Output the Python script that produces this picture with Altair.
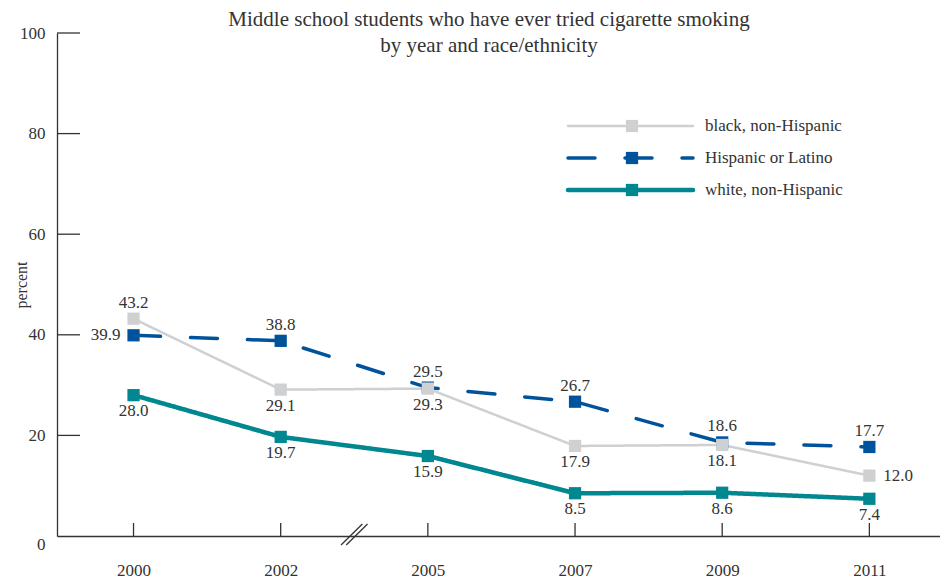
import altair as alt
import pandas as pd

years = ["2000", "2002", "2005", "2007", "2009", "2011"]
series_names = ["black, non-Hispanic", "Hispanic or Latino", "white, non-Hispanic"]
black_vals = [43.2, 29.1, 29.3, 17.9, 18.1, 12.0]
hisp_vals = [39.9, 38.8, 29.5, 26.7, 18.6, 17.7]
white_vals = [28.0, 19.7, 15.9, 8.5, 8.6, 7.4]
black_pos = ["above", "below", "below", "below", "below", "right"]
hisp_pos = ["left", "above", "above", "above", "above", "above"]
white_pos = ["below"] * 6
y_ticks = [20, 40, 60, 80, 100]

colors = ["#cfd0d2", "#00539b", "#00878f"]
dashes = [[1, 0], [27, 30], [1, 0]]
widths = [2.5, 4.5, 4.5]

rows = []
for name, vals, poss in zip(series_names, [black_vals, hisp_vals, white_vals],
                            [black_pos, hisp_pos, white_pos]):
    for i, (v, p) in enumerate(zip(vals, poss)):
        rows.append({"idx": i, "year": years[i], "series": name, "value": v,
                     "pos": p, "label": f"{v:.1f}"})
df = pd.DataFrame(rows)

FONT = "Liberation Serif"
TXT = "#333333"
W, H = 883, 503

xs = alt.Scale(domain=[-0.52, 5.48], nice=False, zero=False)
ys = alt.Scale(domain=[0, 100], nice=False)
cs = alt.Scale(domain=series_names, range=colors)
ds = alt.Scale(domain=series_names, range=dashes)
ws = alt.Scale(domain=series_names, range=widths)

label_expr = "[" + ",".join(f"'{y}'" for y in years) + "][datum.value]"

X = alt.X("idx:Q", scale=xs,
          axis=alt.Axis(values=list(range(len(years))), labelExpr=label_expr,
                        title=None, grid=False, ticks=False, labelPadding=39,
                        labelBaseline="alphabetic",
                        labelFont=FONT, labelFontSize=17, labelColor=TXT,
                        domainColor="#333333", domainWidth=1.3))
Y = alt.Y("value:Q", scale=ys,
          axis=alt.Axis(values=[0] + y_ticks, title="percent", grid=False, ticks=False,
                        labelPadding=12, labelFont=FONT, labelFontSize=17,
                        labelColor=TXT, domainColor="#333333", domainWidth=1.3,
                        labelBaseline={"expr": "datum.value == 0 ? 'top' : 'middle'"},
                        titleFont=FONT, titleFontSize=16, titleFontWeight="normal",
                        titleColor=TXT, titleAngle=270, titleX=-36, titleY=H / 2,
                        titleAlign="center", titleBaseline="middle"))

base = alt.Chart(df)

# axis base (defines axes)
axes = base.mark_point(opacity=0).encode(x=X, y=Y)

# inward y ticks
ytick_df = pd.DataFrame({"v": y_ticks})
yticks = alt.Chart(ytick_df).mark_rule(color="#333333", strokeWidth=1.3).encode(
    x=alt.value(0), x2=alt.value(23), y=alt.Y("v:Q", scale=ys))

# inward x ticks
xtick_df = pd.DataFrame({"idx": list(range(len(years)))})
xticks = alt.Chart(xtick_df).mark_rule(color="#333333", strokeWidth=1.3).encode(
    x=alt.X("idx:Q", scale=xs), y=alt.value(H), y2=alt.value(H - 13))

# axis break marks
brk_df = pd.DataFrame({"bx": [1.41, 1.445], "bx2": [1.555, 1.59]})
breaks = alt.Chart(brk_df).mark_rule(color="#333333", strokeWidth=1.3).encode(
    x=alt.X("bx:Q", scale=xs), x2="bx2:Q", y=alt.value(H + 9), y2=alt.value(H - 12))

layers = [axes, yticks, xticks, breaks]

for name in [series_names[2], series_names[1], series_names[0]]:
    sub = base.transform_filter(alt.datum.series == name)
    layers.append(sub.mark_line(strokeCap="round").encode(
        x=alt.X("idx:Q", scale=xs), y=alt.Y("value:Q", scale=ys),
        color=alt.Color("series:N", scale=cs, legend=None),
        strokeDash=alt.StrokeDash("series:N", scale=ds, legend=None),
        strokeWidth=alt.StrokeWidth("series:N", scale=ws, legend=None)))
for name in [series_names[2], series_names[1], series_names[0]]:
    sub = base.transform_filter(alt.datum.series == name)
    layers.append(sub.mark_point(shape="square", filled=True, size=150, opacity=1).encode(
        x=alt.X("idx:Q", scale=xs), y=alt.Y("value:Q", scale=ys),
        color=alt.Color("series:N", scale=cs, legend=None)))

offsets = {"above": dict(dy=-16, align="center"),
           "below": dict(dy=16, align="center"),
           "left": dict(dx=-13, align="right"),
           "right": dict(dx=14, align="left")}
for pos, kw in offsets.items():
    layers.append(base.transform_filter(alt.datum.pos == pos).mark_text(
        font=FONT, fontSize=17, color=TXT, baseline="middle", **kw).encode(
        x=alt.X("idx:Q", scale=xs), y=alt.Y("value:Q", scale=ys), text="label:N"))

# manual legend
leg_df = pd.DataFrame({"series": series_names, "ly": [93, 125, 157]})
leg = alt.Chart(leg_df)
layers.append(leg.mark_rule(strokeCap="round").encode(
    x=alt.value(511), x2=alt.value(636), y=alt.Y("ly:Q", scale=None),
    color=alt.Color("series:N", scale=cs, legend=None),
    strokeDash=alt.StrokeDash("series:N", scale=ds, legend=None),
    strokeWidth=alt.StrokeWidth("series:N", scale=ws, legend=None)))
layers.append(leg.mark_point(shape="square", filled=True, size=150, opacity=1).encode(
    x=alt.value(575), y=alt.Y("ly:Q", scale=None),
    color=alt.Color("series:N", scale=cs, legend=None)))
layers.append(leg.mark_text(font=FONT, fontSize=17, color=TXT, align="left",
                            baseline="middle").encode(
    x=alt.value(648), y=alt.Y("ly:Q", scale=None), text="series:N"))

# title
layers.append(alt.Chart(pd.DataFrame({"t": [0]})).mark_text(
    text=["Middle school students who have ever tried cigarette smoking",
          "by year and race/ethnicity"],
    font=FONT, fontSize=21, color=TXT, align="center", baseline="alphabetic",
    lineHeight=26).encode(x=alt.value(432), y=alt.value(-7)))

chart = alt.layer(*layers).properties(
    width=W, height=H,
    autosize=alt.AutoSizeParams(type="none"),
    padding={"left": 49, "top": 25, "right": 0, "bottom": 42},
    background="white",
).configure_view(stroke=None)

chart.save("out.html", embed_options={"renderer": "svg", "actions": False})
